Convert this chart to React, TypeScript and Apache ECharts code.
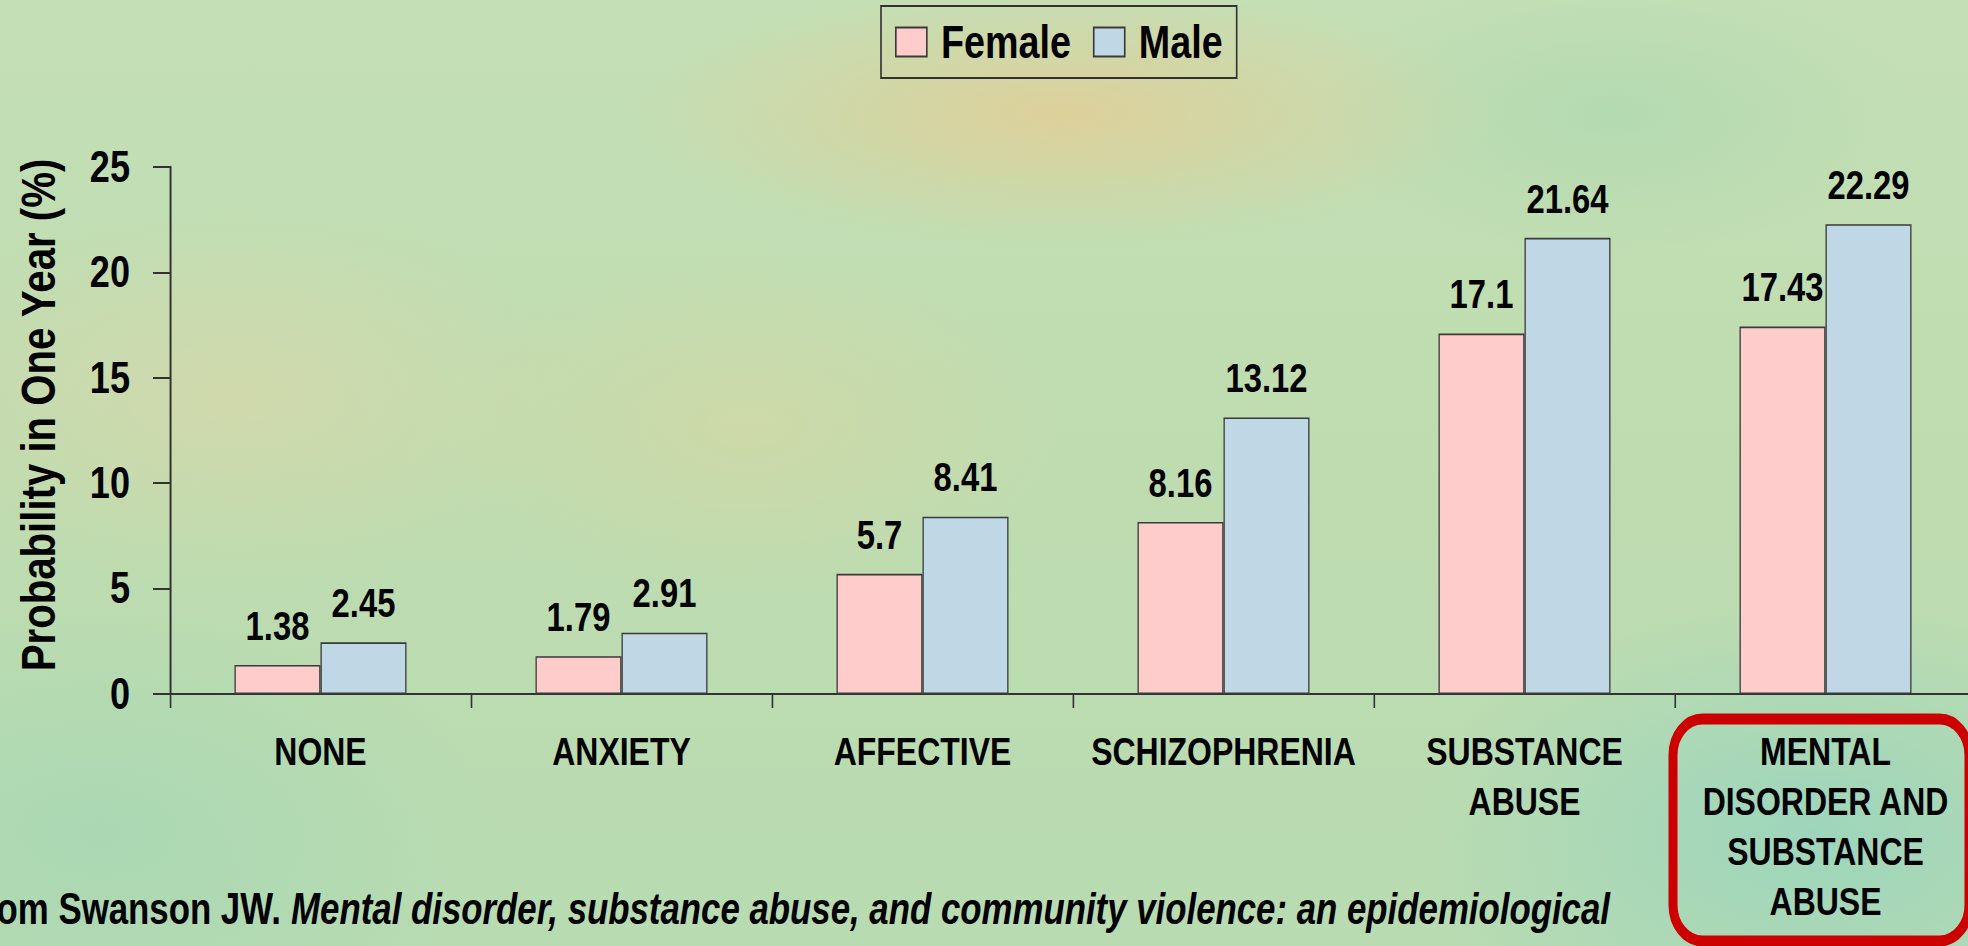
import React, { useEffect, useRef } from "react";
import * as echarts from "echarts";

const categories = [
  "NONE",
  "ANXIETY",
  "AFFECTIVE",
  "SCHIZOPHRENIA",
  "SUBSTANCE\nABUSE",
  "MENTAL\nDISORDER AND\nSUBSTANCE\nABUSE",
];
const femaleValues = [1.38, 1.79, 5.7, 8.16, 17.1, 17.43];
const maleValues = [2.45, 2.91, 8.41, 13.12, 21.64, 22.29];
const seriesNames = ["Female", "Male"];
const yAxisTitle = "Probability in One Year (%)";
const sourceBold = "From Swanson JW. ";
const sourceItalic =
  "Mental disorder, substance abuse, and community violence: an epidemiological";

const FONT = "'Liberation Sans', Arial, Helvetica, sans-serif";
// Narrow-font emulation: the whole chart is drawn wider and squeezed horizontally.
const SX = 0.82;
const W = 1968;
const H = 946;
const X = (v: number) => v / SX;

export default function App() {
  const ref = useRef<HTMLDivElement>(null);

  useEffect(() => {
    if (!ref.current) return;
    const chart = echarts.init(ref.current, null, { renderer: "svg" });
    const labelStyle = {
      show: true,
      position: "top" as const,
      distance: 19,
      fontFamily: FONT,
      fontWeight: "bold" as const,
      fontSize: 40,
      color: "#000",
    };
    chart.setOption({
      animation: false,
      backgroundColor: "transparent",
      textStyle: { fontFamily: FONT },
      legend: {
        left: X(881),
        top: 6,
        padding: [13, X(14), 13, X(14)],
        borderColor: "#333",
        borderWidth: 2,
        icon: "rect",
        itemWidth: X(31),
        itemHeight: 29,
        itemGap: X(22),
        textStyle: {
          fontFamily: FONT,
          fontWeight: "bold",
          fontSize: 46,
          color: "#000",
          padding: [0, 0, 0, X(10)],
        },
        data: seriesNames,
      },
      grid: {
        left: X(170),
        right: W / SX - X(1976),
        top: 167,
        bottom: 252,
        outerBoundsMode: "none",
      },
      xAxis: {
        type: "category",
        data: categories,
        axisLine: { lineStyle: { color: "#333", width: 2 } },
        axisTick: { show: true, length: 14, lineStyle: { color: "#333", width: 2 } },
        axisLabel: {
          interval: 0,
          margin: 33,
          fontFamily: FONT,
          fontWeight: "bold",
          fontSize: 39,
          lineHeight: 50,
          color: "#000",
          align: "center",
        },
      },
      yAxis: {
        type: "value",
        min: 0,
        max: 25,
        interval: 5,
        splitLine: { show: false },
        axisLine: { show: true, lineStyle: { color: "#333", width: 2.4 } },
        axisTick: { show: true, length: X(17), lineStyle: { color: "#333", width: 2 } },
        axisLabel: {
          margin: X(40),
          fontFamily: FONT,
          fontWeight: "bold",
          fontSize: 44,
          color: "#000",
        },
      },
      series: [
        {
          name: seriesNames[0],
          type: "bar",
          data: femaleValues,
          barWidth: X(86),
          barGap: "0%",
          itemStyle: { color: "#FFCCCC", borderColor: "#3a3a3a", borderWidth: 1.6 },
          label: labelStyle,
        },
        {
          name: seriesNames[1],
          type: "bar",
          data: maleValues,
          barWidth: X(86),
          barGap: "0%",
          itemStyle: { color: "#C0D8E6", borderColor: "#3a3a3a", borderWidth: 1.6 },
          label: labelStyle,
        },
      ],
      graphic: [
        {
          type: "text",
          x: X(38),
          y: 415,
          rotation: Math.PI / 2,
          scaleX: SX,
          scaleY: 1 / SX,
          z: 10,
          style: {
            text: yAxisTitle,
            align: "center",
            verticalAlign: "middle",
            fontFamily: FONT,
            fontWeight: "bold",
            fontSize: 49,
            fill: "#000",
          },
        },
        {
          type: "rect",
          shape: { x: X(1673), y: 719, width: X(296), height: 222, r: 36 },
          style: { fill: "transparent", stroke: "#CC0000", lineWidth: 11 },
          z: 10,
        },
        {
          type: "text",
          x: X(1610),
          y: 908,
          scaleX: 0.965,
          z: 10,
          style: {
            text: `{b|${sourceBold}}{i|${sourceItalic}}`,
            align: "right",
            verticalAlign: "middle",
            rich: {
              b: {
                fontFamily: FONT,
                fontWeight: "bold",
                fontSize: 44,
                fill: "#000",
              },
              i: {
                fontFamily: FONT,
                fontWeight: "bold",
                fontStyle: "italic",
                fontSize: 44,
                fill: "#000",
              },
            },
          },
        },
      ],
    });
    return () => chart.dispose();
  }, []);

  const bg = [
    "radial-gradient(ellipse 22% 14% at 54% 12%, rgba(226,206,150,0.85), rgba(226,206,150,0) 100%)",
    "radial-gradient(ellipse 18% 20% at 12% 42%, rgba(222,214,168,0.55), rgba(222,214,168,0) 100%)",
    "radial-gradient(ellipse 16% 18% at 38% 45%, rgba(220,214,160,0.5), rgba(220,214,160,0) 100%)",
    "radial-gradient(ellipse 20% 25% at 92% 88%, rgba(150,212,190,0.8), rgba(150,212,190,0) 100%)",
    "radial-gradient(ellipse 20% 25% at 5% 88%, rgba(160,214,180,0.6), rgba(160,214,180,0) 100%)",
    "radial-gradient(ellipse 15% 15% at 82% 12%, rgba(170,215,175,0.6), rgba(170,215,175,0) 100%)",
    "linear-gradient(180deg, #c4dfb6 0%, #bfdcb0 50%, #b8dbb2 100%)",
  ].join(", ");

  return (
    <div
      style={{
        position: "fixed",
        left: 0,
        top: 0,
        width: W,
        height: H,
        overflow: "hidden",
        background: bg,
      }}
    >
      <div
        ref={ref}
        style={{
          width: W / SX,
          height: H,
          transform: `scaleX(${SX})`,
          transformOrigin: "0 0",
        }}
      />
    </div>
  );
}
